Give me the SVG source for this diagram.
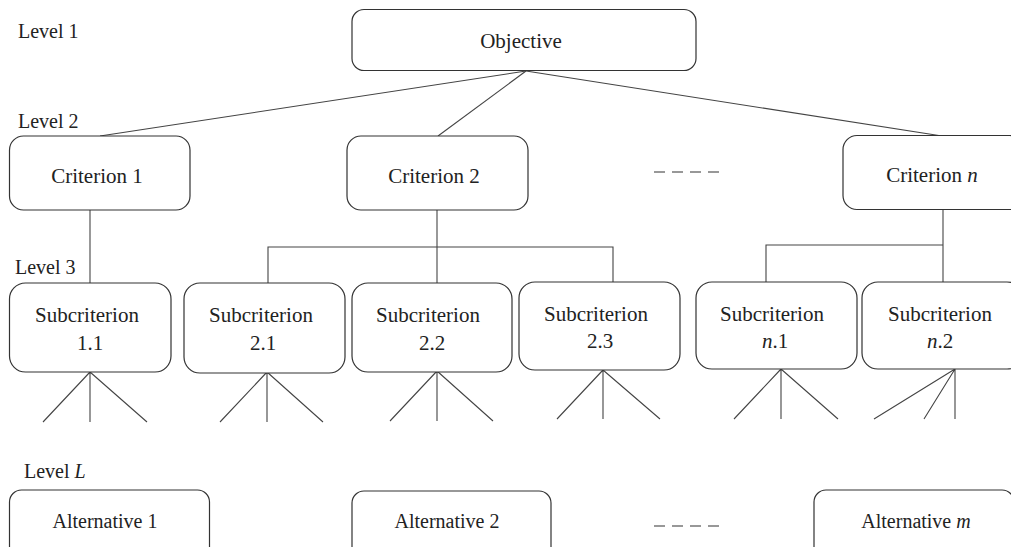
<svg xmlns="http://www.w3.org/2000/svg" width="1011" height="547" viewBox="0 0 1011 547">
<style>
.box{fill:#fff;stroke:#333;stroke-width:1.2}
.t{font-family:"Liberation Serif","Times New Roman",serif;font-size:21px;fill:#222;text-anchor:middle}
.lv{font-family:"Liberation Serif","Times New Roman",serif;font-size:20px;fill:#222}
.alt{font-family:"Liberation Serif","Times New Roman",serif;font-size:20px;fill:#222;text-anchor:middle}
.c{stroke:#444;stroke-width:1.1;fill:none}
.dash{stroke:#333;stroke-width:1.2;stroke-dasharray:11 7}
</style>
<rect width="1011" height="547" fill="#fff"/>
<g id="levels">
<text class="lv" x="18" y="38">Level 1</text>
<text class="lv" x="18" y="128">Level 2</text>
<text class="lv" x="15" y="274">Level 3</text>
<text class="lv" x="24" y="478">Level <tspan font-style="italic">L</tspan></text>
</g>
<g id="connectors">
<line class="c" x1="526" y1="71" x2="100" y2="136"/>
<line class="c" x1="526" y1="71" x2="438" y2="136"/>
<line class="c" x1="526" y1="71" x2="942" y2="136"/>
<line class="c" x1="90" y1="210" x2="90" y2="283"/>
<line class="c" x1="437" y1="210" x2="437" y2="283"/>
<polyline class="c" points="268,283 268,247 613,247 613,282"/>
<line class="c" x1="943" y1="210" x2="943" y2="282"/>
<polyline class="c" points="766,282 766,245 943,245"/>
<path class="c" d="M90 372L43 422M90 372V422M90 372L147 422"/>
<path class="c" d="M267 372L220 422M267 372V422M267 372L323 422"/>
<path class="c" d="M437 371L390 421M437 371V421M437 371L493 421"/>
<path class="c" d="M603 370L557 419M603 370V419M603 370L660 419"/>
<path class="c" d="M781 369L734 419M781 369V419M781 369L838 419"/>
<path class="c" d="M955 369L874 419M955 369L924 419M955 369V419"/>
<line class="dash" x1="654" y1="172" x2="720" y2="172"/>
<line class="dash" x1="654" y1="526" x2="720" y2="526"/>
</g>
<g id="objective">
<rect class="box" x="352" y="9.5" width="344" height="61" rx="12"/>
<text class="t" x="521" y="48">Objective</text>
</g>
<g id="criterion1">
<rect class="box" x="9.5" y="136" width="180.5" height="74" rx="14"/>
<text class="t" x="97" y="183">Criterion 1</text>
</g>
<g id="criterion2">
<rect class="box" x="347" y="136" width="181" height="74" rx="14"/>
<text class="t" x="434" y="183">Criterion 2</text>
</g>
<g id="criterionN">
<rect class="box" x="843" y="135.5" width="181" height="74" rx="14"/>
<text class="t" x="932" y="182">Criterion  <tspan font-style="italic">n</tspan></text>
</g>
<g id="sub11">
<rect class="box" x="9.5" y="283" width="161.5" height="89" rx="16"/>
<text class="t" x="87" y="322">Subcriterion</text>
<text class="t" x="90" y="350">1.1</text>
</g>
<g id="sub21">
<rect class="box" x="184" y="283" width="161" height="90" rx="16"/>
<text class="t" x="261" y="322">Subcriterion</text>
<text class="t" x="263" y="350">2.1</text>
</g>
<g id="sub22">
<rect class="box" x="352" y="283" width="160" height="89" rx="16"/>
<text class="t" x="428" y="322">Subcriterion</text>
<text class="t" x="432" y="350">2.2</text>
</g>
<g id="sub23">
<rect class="box" x="519" y="282" width="161" height="88" rx="16"/>
<text class="t" x="596" y="321">Subcriterion</text>
<text class="t" x="600" y="348">2.3</text>
</g>
<g id="subN1">
<rect class="box" x="696" y="282" width="161" height="87" rx="16"/>
<text class="t" x="772" y="321">Subcriterion</text>
<text class="t" x="775" y="348"><tspan font-style="italic">n</tspan>.1</text>
</g>
<g id="subN2">
<rect class="box" x="862" y="282" width="161" height="87" rx="16"/>
<text class="t" x="940" y="321">Subcriterion</text>
<text class="t" x="940" y="348"><tspan font-style="italic">n</tspan>.2</text>
</g>
<g id="alt1">
<rect class="box" x="9.5" y="490" width="200" height="80" rx="12"/>
<text class="alt" x="105" y="528">Alternative 1</text>
</g>
<g id="alt2">
<rect class="box" x="352" y="491" width="199" height="80" rx="12"/>
<text class="alt" x="447" y="528">Alternative 2</text>
</g>
<g id="altM">
<rect class="box" x="814" y="490" width="200" height="80" rx="12"/>
<text class="alt" x="916" y="528">Alternative  <tspan font-style="italic">m</tspan></text>
</g>
</svg>
